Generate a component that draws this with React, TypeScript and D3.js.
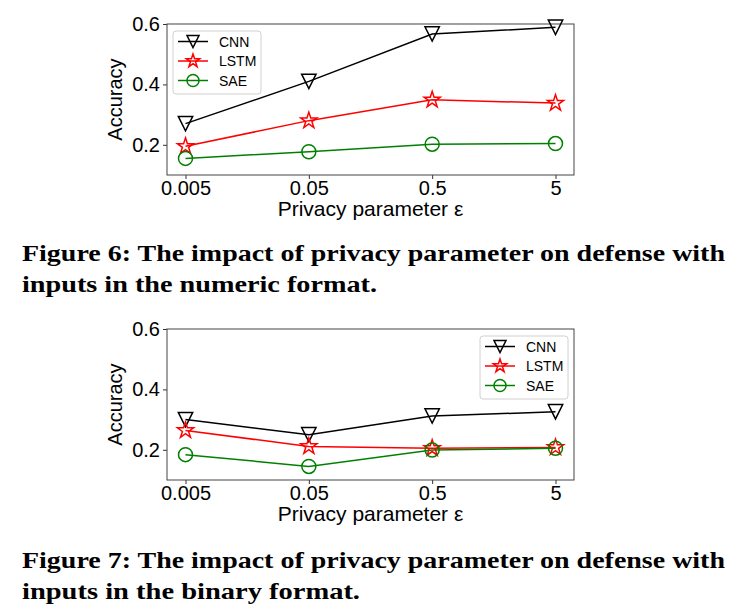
import React, { useRef, useEffect } from "react";
import * as d3 from "d3";

// x categories (privacy parameter epsilon)
const epsilons = [0.005, 0.05, 0.5, 5];
const epsilonLabels = ["0.005", "0.05", "0.5", "5"];
const yTicks = [0.2, 0.4, 0.6];

// Figure 6: numeric format
const numericCNN = [0.27, 0.41, 0.567, 0.589];
const numericLSTM = [0.195, 0.28, 0.349, 0.338];
const numericSAE = [0.155, 0.177, 0.202, 0.204];

// Figure 7: binary format
const binaryCNN = [0.3, 0.25, 0.312, 0.326];
const binaryLSTM = [0.264, 0.211, 0.205, 0.208];
const binarySAE = [0.184, 0.145, 0.199, 0.205];

const seriesNames = ["CNN", "LSTM", "SAE"];

const caption6 = [
  "Figure 6: The impact of privacy parameter on defense with",
  "inputs in the numeric format.",
];
const caption7 = [
  "Figure 7: The impact of privacy parameter on defense with",
  "inputs in the binary format.",
];

type Marker = "tri" | "star" | "circle";

const markerPath = (kind: Marker, r: number) => {
  if (kind === "tri") {
    // triangle pointing down
    return `M${-r},${-r}L${r},${-r}L0,${r}Z`;
  }
  if (kind === "star") {
    const inner = r * 0.381966;
    const pts: string[] = [];
    for (let i = 0; i < 10; i++) {
      const a = (Math.PI / 5) * i - Math.PI / 2;
      const rr = i % 2 === 0 ? r : inner;
      pts.push(`${(rr * Math.cos(a)).toFixed(2)},${(rr * Math.sin(a)).toFixed(2)}`);
    }
    return `M${pts.join("L")}Z`;
  }
  return d3.arc()({ innerRadius: 0, outerRadius: r, startAngle: 0, endAngle: 2 * Math.PI }) as string;
};

const styles = [
  { color: "#000000", marker: "tri" as Marker, size: 7.2, legendSize: 6 },
  { color: "#ff0000", marker: "star" as Marker, size: 8.5, legendSize: 7 },
  { color: "#008000", marker: "circle" as Marker, size: 7, legendSize: 6 },
];

function drawPanel(
  svg: d3.Selection<SVGSVGElement, unknown, null, undefined>,
  top: number,
  series: number[][],
  legendRight: boolean,
  caption: string[],
  captionTop: number
) {
  const left = 167;
  const right = 574;
  const bottom = top + 151;
  const font = "'Liberation Sans', Arial, sans-serif";

  const x = d3
    .scaleLog()
    .domain([0.005 / Math.pow(10, 0.15), 5 * Math.pow(10, 0.15)])
    .range([left, right]);
  const y = d3.scaleLinear().domain([0.1, 0.6]).range([bottom, top]);

  const g = svg.append("g");

  // axes
  const xAxis = g
    .append("g")
    .attr("transform", `translate(0,${bottom})`)
    .call(
      d3
        .axisBottom(x)
        .tickValues(epsilons)
        .tickFormat((_, i) => epsilonLabels[i])
        .tickSizeOuter(0)
        .tickSize(4)
        .tickPadding(2)
    );
  xAxis.select(".domain").remove();
  xAxis.selectAll("line").attr("stroke", "#333");
  xAxis
    .selectAll("text")
    .style("font-family", font)
    .style("font-size", "20px")
    .attr("fill", "#000");

  const yAxis = g
    .append("g")
    .attr("transform", `translate(${left},0)`)
    .call(d3.axisLeft(y).tickValues(yTicks).tickFormat(d3.format(".1f")).tickSizeOuter(0).tickSize(4).tickPadding(3));
  yAxis.select(".domain").remove();
  yAxis.selectAll("line").attr("stroke", "#333");
  yAxis
    .selectAll("text")
    .style("font-family", font)
    .style("font-size", "20px")
    .attr("fill", "#000");

  // frame
  g.append("rect")
    .attr("x", left)
    .attr("y", top)
    .attr("width", right - left)
    .attr("height", bottom - top)
    .attr("fill", "none")
    .attr("stroke", "#444")
    .attr("stroke-width", 1);

  // lines and markers
  const line = d3
    .line<number>()
    .x((_, i) => x(epsilons[i]))
    .y((d) => y(d));

  series.forEach((vals, si) => {
    const st = styles[si];
    g.append("path")
      .datum(vals)
      .attr("d", line)
      .attr("fill", "none")
      .attr("stroke", st.color)
      .attr("stroke-width", 1.5);
    g.selectAll(null)
      .data(vals)
      .enter()
      .append("path")
      .attr("transform", (d, i) => `translate(${x(epsilons[i])},${y(d)})`)
      .attr("d", markerPath(st.marker, st.size))
      .attr("fill", "none")
      .attr("stroke", st.color)
      .attr("stroke-width", 1.5);
  });

  // legend
  const lw = 88;
  const lh = 63;
  const lx = legendRight ? right - 6 - lw : left + 6;
  const ly = top + 7;
  const leg = g.append("g").attr("transform", `translate(${lx},${ly})`);
  leg
    .append("rect")
    .attr("width", lw)
    .attr("height", lh)
    .attr("rx", 3)
    .attr("fill", "#fff")
    .attr("fill-opacity", 0.8)
    .attr("stroke", "#d0d0d0");
  seriesNames.forEach((name, i) => {
    const st = styles[i];
    const ry = 10.5 + i * 19.5;
    leg
      .append("line")
      .attr("x1", 5)
      .attr("x2", 35)
      .attr("y1", ry)
      .attr("y2", ry)
      .attr("stroke", st.color)
      .attr("stroke-width", 1.5);
    leg
      .append("path")
      .attr("transform", `translate(20,${ry})`)
      .attr("d", markerPath(st.marker, st.legendSize))
      .attr("fill", "none")
      .attr("stroke", st.color)
      .attr("stroke-width", 1.5);
    leg
      .append("text")
      .attr("x", 46)
      .attr("y", ry + 5)
      .style("font-family", font)
      .style("font-size", "14px")
      .attr("fill", "#000")
      .text(name);
  });

  // axis labels
  g.append("text")
    .attr("x", (left + right) / 2)
    .attr("y", bottom + 41)
    .attr("text-anchor", "middle")
    .style("font-family", font)
    .style("font-size", "21px")
    .attr("fill", "#000")
    .text("Privacy parameter ε");

  g.append("text")
    .attr("transform", `translate(122,${(top + bottom) / 2}) rotate(-90)`)
    .attr("text-anchor", "middle")
    .style("font-family", font)
    .style("font-size", "20px")
    .attr("fill", "#000")
    .text("Accuracy");

  // caption
  const widths = [703, caption === caption6 ? 355 : 338];
  caption.forEach((lineText, i) => {
    g.append("text")
      .attr("x", 22)
      .attr("y", captionTop + i * 31)
      .attr("textLength", widths[i])
      .attr("lengthAdjust", "spacingAndGlyphs")
      .style("font-family", "'Liberation Serif', 'Times New Roman', serif")
      .style("font-weight", "bold")
      .style("font-size", "24px")
      .attr("fill", "#000")
      .text(lineText);
  });
}

export default function App() {
  const svgRef = useRef<SVGSVGElement>(null);

  useEffect(() => {
    if (!svgRef.current) return;
    const svg = d3.select(svgRef.current);
    svg.selectAll("*").remove();

    drawPanel(svg, 24, [numericCNN, numericLSTM, numericSAE], false, caption6, 261);
    drawPanel(svg, 329, [binaryCNN, binaryLSTM, binarySAE], true, caption7, 568);
  }, []);

  return (
    <div style={{ position: "fixed", left: 0, top: 0, background: "#fff" }}>
      <svg ref={svgRef} width={755} height={614} style={{ display: "block" }} />
    </div>
  );
}
